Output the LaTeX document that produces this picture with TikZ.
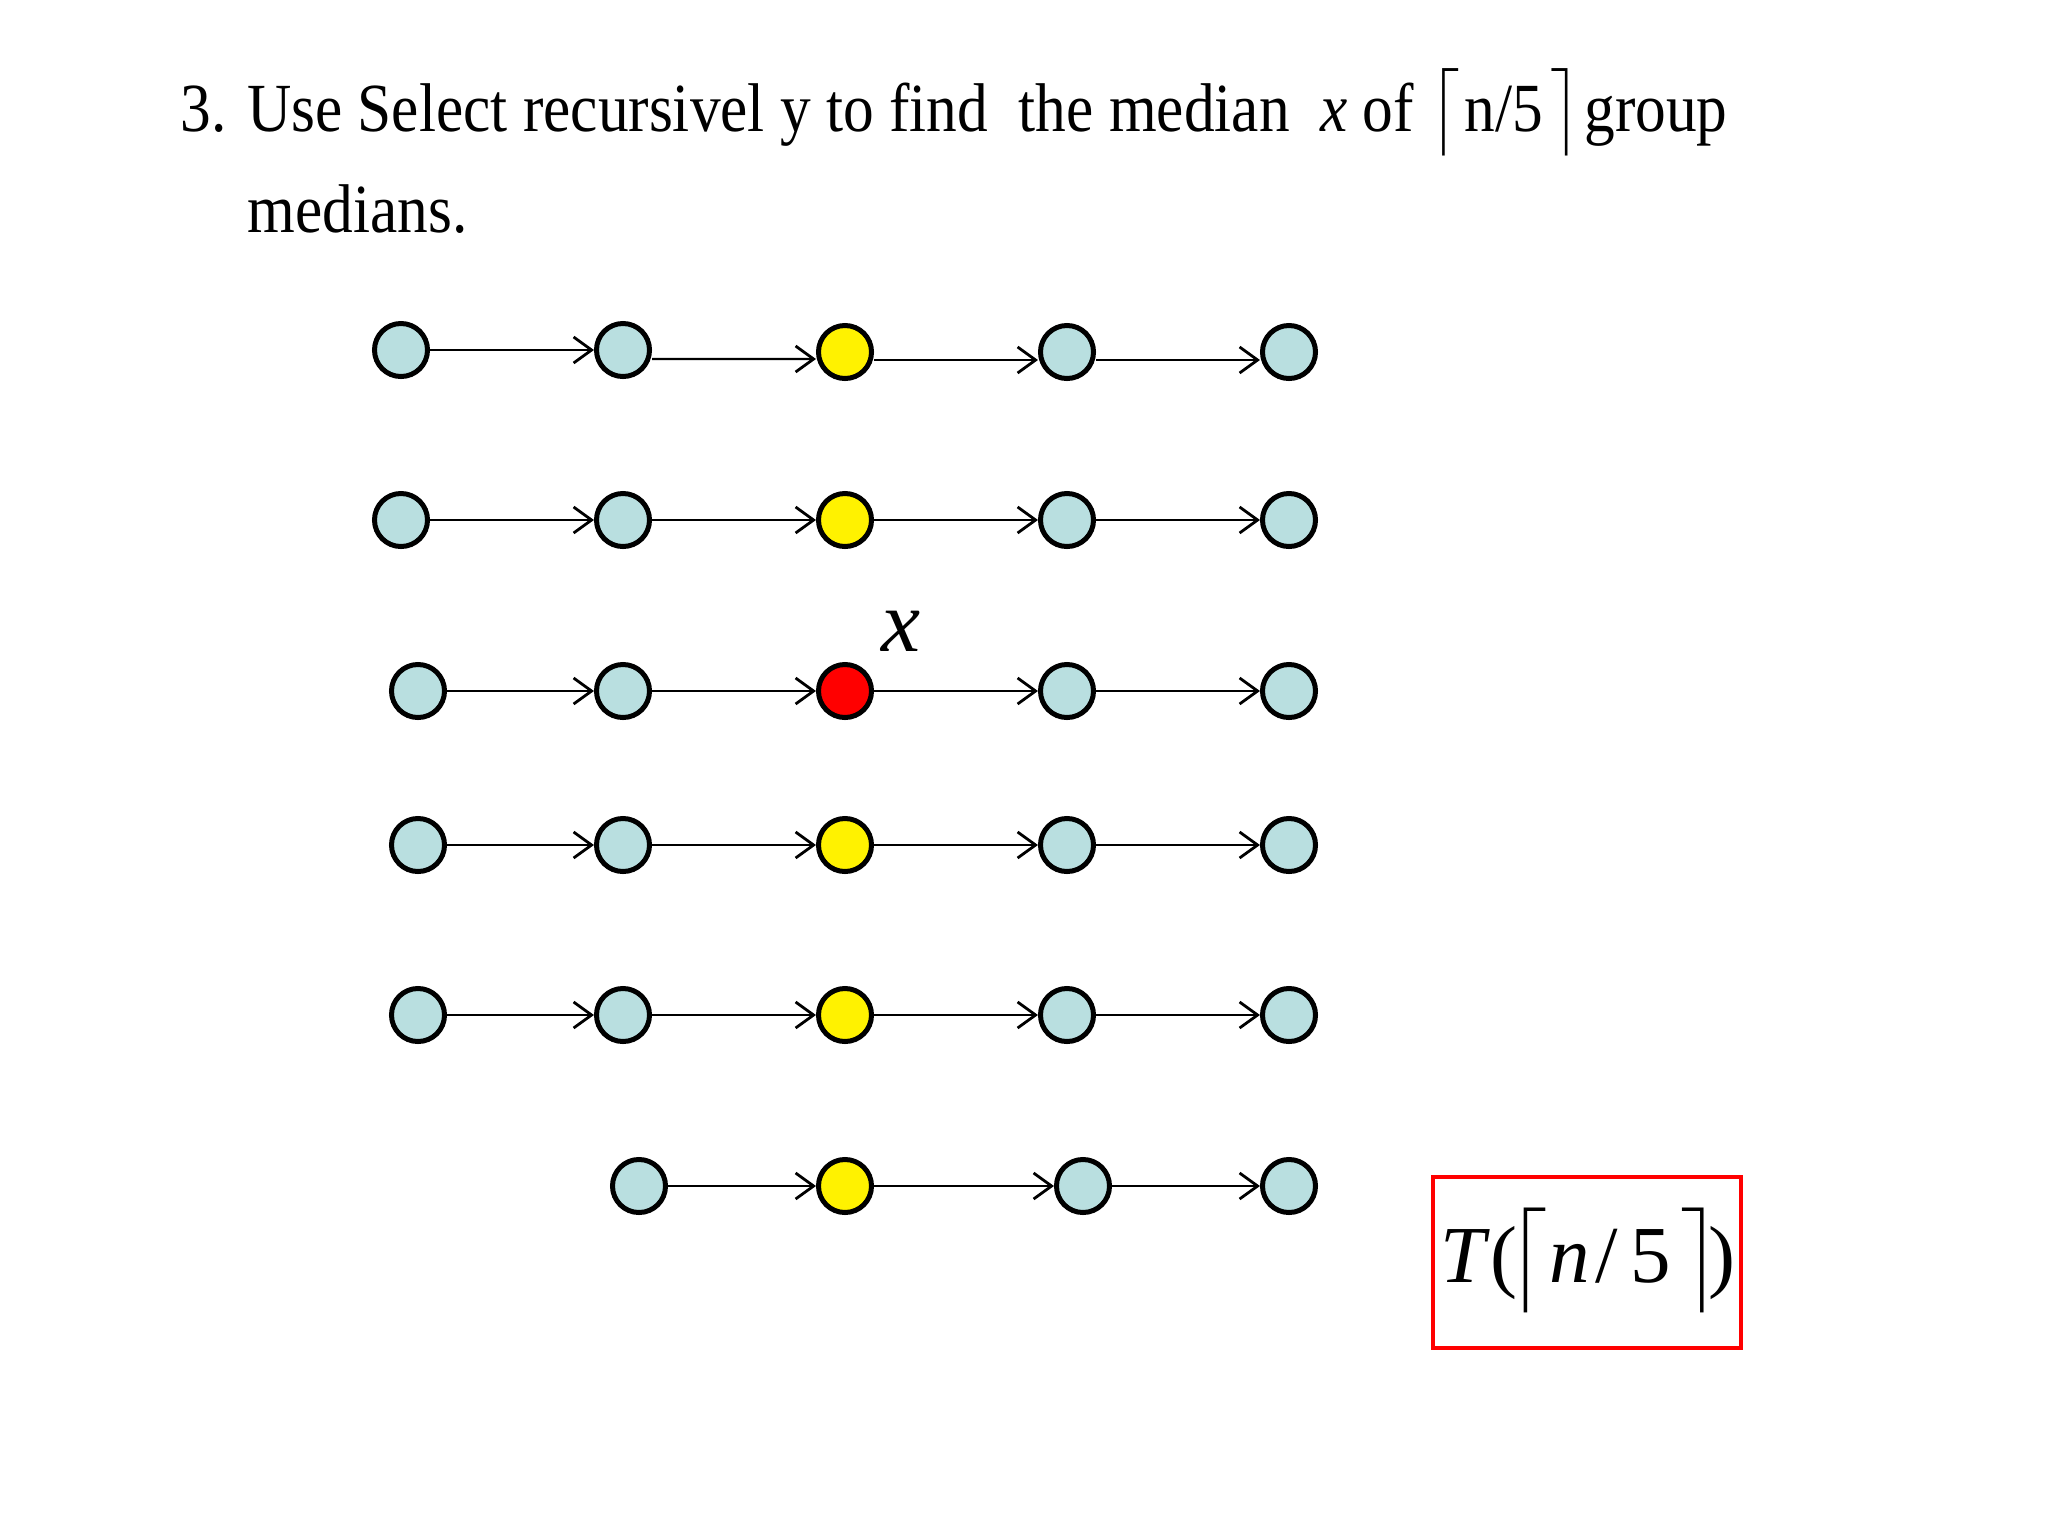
\documentclass[tikz,border=0pt]{standalone}
\usepackage{fontspec}
\usepackage{amsmath}
\usepackage{graphicx}
\setmainfont{Liberation Serif}
\usetikzlibrary{arrows.meta}
\definecolor{lblue}{RGB}{185,223,224}
\begin{document}
\begin{tikzpicture}[x=0.01cm,y=-0.01cm,
  dot/.style={circle,draw=black,line width=0.05cm,minimum size=0.53cm,inner sep=0pt,fill=lblue},
  med/.style={dot,fill=yellow},
  xmed/.style={dot,fill=red},
  link/.style={line width=0.024cm,-{Straight Barb[length=0.18cm,width=0.26cm,line width=0.028cm]}},
  title/.style={anchor=base west,inner sep=0pt,font=\fontsize{19.6pt}{24pt}\selectfont},
  lbl/.style={inner sep=0pt,font=\fontsize{25pt}{30pt}\selectfont\itshape},
  tbox/.style={draw=red,line width=0.045cm,minimum width=3.08cm,minimum height=1.71cm,inner sep=0pt},
  ttext/.style={anchor=base,inner sep=0pt,font=\fontsize{23pt}{26pt}\selectfont}]
\useasboundingbox (0,0) rectangle (2048,1536);
% title
\node[title] (t1) at (180,131) {\scalebox{0.89}[1]{3. Use Select recursivel y to find\ \ the median\ \ \textit{x} of\ $\bigl\lceil$\kern0.08em n/5\kern0.12em$\bigr\rceil$\kern0.05em group}};
\node[title] (t2) at (247,232) {\scalebox{0.89}[1]{medians.}};
% row 1
\node[dot] (a1) at (401,350) {};
\node[dot] (a2) at (623,350) {};
\node[med] (a3) at (845,352) {};
\node[dot] (a4) at (1067,352) {};
\node[dot] (a5) at (1289,352) {};
% row 2
\node[dot] (b1) at (401,520) {};
\node[dot] (b2) at (623,520) {};
\node[med] (b3) at (845,520) {};
\node[dot] (b4) at (1067,520) {};
\node[dot] (b5) at (1289,520) {};
% row 3
\node[dot] (c1) at (418,691) {};
\node[dot] (c2) at (623,691) {};
\node[xmed] (c3) at (845,691) {};
\node[dot] (c4) at (1067,691) {};
\node[dot] (c5) at (1289,691) {};
% row 4
\node[dot] (d1) at (418,845) {};
\node[dot] (d2) at (623,845) {};
\node[med] (d3) at (845,845) {};
\node[dot] (d4) at (1067,845) {};
\node[dot] (d5) at (1289,845) {};
% row 5
\node[dot] (e1) at (418,1015) {};
\node[dot] (e2) at (623,1015) {};
\node[med] (e3) at (845,1015) {};
\node[dot] (e4) at (1067,1015) {};
\node[dot] (e5) at (1289,1015) {};
% row 6
\node[dot] (f1) at (639,1186) {};
\node[med] (f2) at (845,1186) {};
\node[dot] (f3) at (1083,1186) {};
\node[dot] (f4) at (1289,1186) {};
% arrows
\draw[link] (a1) -- (a2);
\draw[link] ([yshift=-0.09cm]a2.east) -- ([yshift=-0.07cm]a3.west);
\draw[link] ([yshift=-0.08cm]a3.east) -- ([yshift=-0.08cm]a4.west);
\draw[link] ([yshift=-0.08cm]a4.east) -- ([yshift=-0.08cm]a5.west);
\foreach \r in {b,c,d,e}{
  \draw[link] (\r1) -- (\r2);
  \draw[link] (\r2) -- (\r3);
  \draw[link] (\r3) -- (\r4);
  \draw[link] (\r4) -- (\r5);
}
\draw[link] (f1) -- (f2);
\draw[link] (f2) -- (f3);
\draw[link] (f3) -- (f4);
% x label
\node[lbl] (xl) at (901,631) {x};
% box
\node[tbox] (tb) at (1587,1262.5) {};
\node[ttext] (tt) at (1588,1282) {\textit{T}(\kern-0.14em$\bigl\lceil$\kern0.02em\textit{n}\kern0.08em/\kern0.15em5\kern0.12em$\bigr\rceil$\kern-0.17em)};
\end{tikzpicture}
\end{document}
